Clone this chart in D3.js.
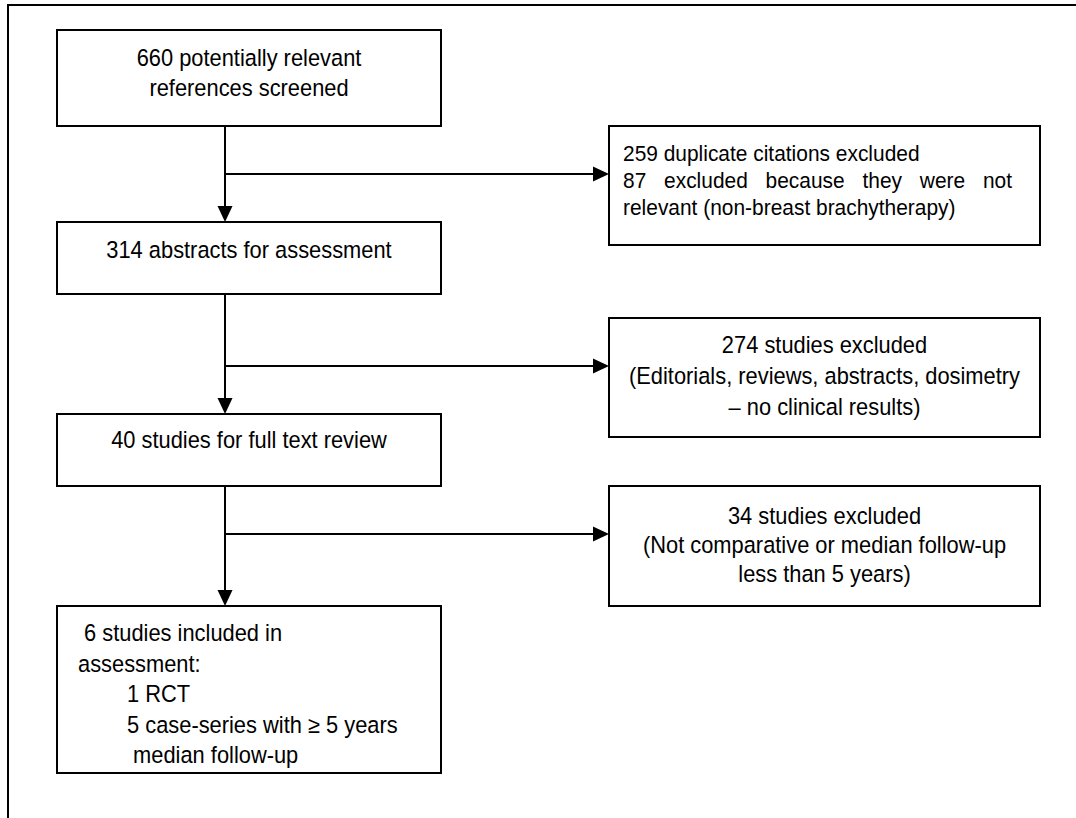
<!DOCTYPE html>
<html>
<head>
<meta charset="utf-8">
<script src="https://cdn.jsdelivr.net/npm/d3@7/dist/d3.min.js"></script>
<style>
  body { margin: 0; background: #fff; }
  svg { display: block; }
  text { font-family: "Liberation Sans", Arial, sans-serif; fill: #000; white-space: pre; }
</style>
</head>
<body>
<svg id="chart"></svg>
<script>
// main path boxes (top to bottom)
var stageLines = [
  ["660 potentially relevant", "references screened"],
  ["314 abstracts for assessment"],
  ["40 studies for full text review"],
  [" 6 studies included in", "assessment:", "1 RCT", "5 case-series with \u2265 5 years", " median follow-up"]
];
// exclusion boxes on the right, one per step
var excludedLines = [
  ["259 duplicate citations excluded", "87 excluded because they were not", "relevant (non-breast brachytherapy)"],
  ["274 studies excluded", "(Editorials, reviews, abstracts, dosimetry", "\u2013 no clinical results)"],
  ["34 studies excluded", "(Not comparative or median follow-up", "less than 5 years)"]
];

var W = 1076, H = 818;
var svg = d3.select("#chart").attr("width", W).attr("height", H);

// layout
var y = d3.scaleLinear().domain([0, 3]).range([30, 606]);   // top of each stage box
var stageH = [96, 72, 72, 167];
var leftX = [57, 441], rightX = [609, 1040];
var spineX = 225;
var branchY = [174, 366, 534];
var rightTop = [126, 318, 486], rightH = [119, 119, 120];
var arrowL = 16, arrowHW = 7.5;
var sx = 0.93;   // the source font is a little narrower than Liberation Sans

// outer frame (runs off the page right and bottom)
svg.append("rect")
  .attr("x", 8).attr("y", 5)
  .attr("width", W + 100).attr("height", H + 100)
  .attr("fill", "none").attr("stroke", "#000").attr("stroke-width", 2);

// stage boxes
svg.selectAll("rect.stage")
  .data(stageLines)
  .enter()
  .append("rect")
  .attr("class", "stage")
  .attr("x", leftX[0])
  .attr("y", (d, i) => y(i))
  .attr("width", leftX[1] - leftX[0])
  .attr("height", (d, i) => stageH[i])
  .attr("fill", "#fff").attr("stroke", "#000").attr("stroke-width", 2);

// exclusion boxes
svg.selectAll("rect.excl")
  .data(excludedLines)
  .enter()
  .append("rect")
  .attr("class", "excl")
  .attr("x", rightX[0])
  .attr("y", (d, i) => rightTop[i])
  .attr("width", rightX[1] - rightX[0])
  .attr("height", (d, i) => rightH[i])
  .attr("fill", "#fff").attr("stroke", "#000").attr("stroke-width", 2);

// connectors: spine down between stages, branch right to exclusions
var links = d3.range(3);
svg.selectAll("line.down")
  .data(links)
  .enter()
  .append("line")
  .attr("x1", spineX).attr("x2", spineX)
  .attr("y1", i => y(i) + stageH[i])
  .attr("y2", i => y(i + 1) - arrowL + 1)
  .attr("stroke", "#000").attr("stroke-width", 2);

svg.selectAll("line.side")
  .data(links)
  .enter()
  .append("line")
  .attr("x1", spineX).attr("x2", rightX[0] - arrowL + 1)
  .attr("y1", i => branchY[i]).attr("y2", i => branchY[i])
  .attr("stroke", "#000").attr("stroke-width", 2);

// arrow heads
svg.selectAll("path.downHead")
  .data(links)
  .enter()
  .append("path")
  .attr("d", i => {
    var t = y(i + 1);
    return `M${spineX - arrowHW},${t - arrowL}L${spineX + arrowHW},${t - arrowL}L${spineX},${t}Z`;
  })
  .attr("fill", "#000");

svg.selectAll("path.sideHead")
  .data(links)
  .enter()
  .append("path")
  .attr("d", i => {
    var t = rightX[0], b = branchY[i];
    return `M${t - arrowL},${b - arrowHW}L${t - arrowL},${b + arrowHW}L${t},${b}Z`;
  })
  .attr("fill", "#000");

// text in stage boxes
var midL = (leftX[0] + leftX[1]) / 2;
var stageText = [
  { size: 23.5, y0: 58, dy: 30, anchor: "middle", x: [midL, midL] },
  { size: 23.5, y0: 250, dy: 30, anchor: "middle", x: [midL] },
  { size: 23.5, y0: 440, dy: 30, anchor: "middle", x: [midL] },
  { size: 23.5, y0: 633, dy: 30.5, anchor: "start", x: [78, 78, 127, 127, 127] }
];
stageLines.forEach((lines, i) => {
  var s = stageText[i];
  svg.append("g")
    .selectAll("text")
    .data(lines)
    .enter()
    .append("text")
    .attr("xml:space", "preserve")
    .attr("transform", (d, j) => `translate(${s.x[j]},${s.y0 + j * s.dy}) scale(${sx},1)`)
    .attr("dy", "0.35em")
    .attr("text-anchor", s.anchor)
    .style("font-size", s.size + "px")
    .text(d => d);
});

// text in exclusion boxes
var midR = (rightX[0] + rightX[1]) / 2;
var exclText = [
  { size: 22.5, y0: 153, dy: 27, anchor: "start", x: 623 },
  { size: 23.5, y0: 345, dy: 31, anchor: "middle", x: midR },
  { size: 23.5, y0: 516, dy: 29, anchor: "middle", x: midR }
];
excludedLines.forEach((lines, i) => {
  var s = exclText[i];
  svg.append("g")
    .selectAll("text")
    .data(lines)
    .enter()
    .append("text")
    .attr("transform", (d, j) => `translate(${s.x},${s.y0 + j * s.dy}) scale(${sx},1)`)
    .attr("dy", "0.35em")
    .attr("text-anchor", s.anchor)
    .style("font-size", s.size + "px")
    .text(d => d)
    .each(function(d, j) {
      // the middle line of the first box is justified to the right edge
      if (i === 0 && j === 1) {
        var natural = this.getComputedTextLength();
        var gaps = d.split(" ").length - 1;
        var target = (1012 - s.x) / sx;
        d3.select(this).style("word-spacing", ((target - natural) / gaps) + "px");
      }
    });
});
</script>
</body>
</html>
